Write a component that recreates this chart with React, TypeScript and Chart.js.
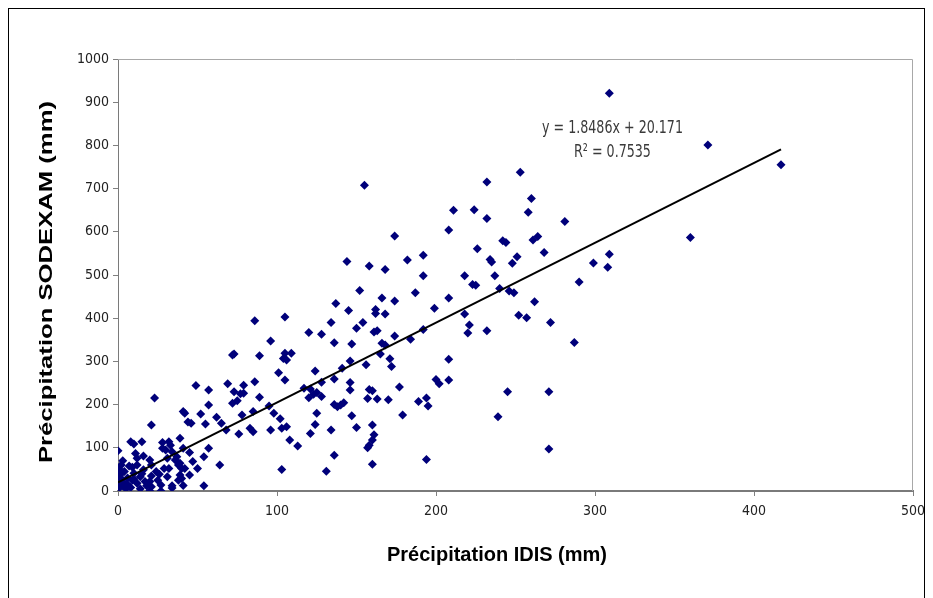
import React, { useEffect, useRef } from "react";
import { Chart, registerables } from "chart.js";

Chart.register(...registerables);

// IDIS precipitation (x, mm)
const idis: number[] = [
  309, 371, 417, 360, 309, 308, 281, 290, 299, 287, 272, 271, 271, 268, 264, 261, 262, 260, 258, 257,
  252, 253, 251, 248, 249, 246, 244, 242, 245, 240, 239, 237, 235, 234, 232, 232, 232, 226, 225, 223,
  224, 221, 220, 218, 218, 211, 208, 208, 208, 208, 202, 200, 199, 195, 194, 194, 192, 192, 192, 189,
  187, 184, 182, 179, 177, 174, 174, 174, 171, 172, 170, 168, 168, 168, 166, 166, 165, 163, 163, 161,
  162, 162, 161, 160, 160, 160, 160, 158, 158, 158, 157, 157, 156, 155, 154, 152, 150, 150, 147, 146,
  146, 146, 147, 145, 144, 142, 141, 140, 138, 137, 136, 136, 136, 136, 134, 134, 131, 128, 128, 128,
  125, 125, 124, 124, 123, 121, 121, 120, 120, 117, 113, 109, 108, 106, 106, 105, 105, 105, 104, 103,
  103, 102, 101, 98, 96, 96, 95, 89, 89, 86, 86, 85, 85, 83, 79, 79, 78, 76, 77, 75,
  73, 73, 72, 72, 69, 68, 65, 62, 57, 57, 57, 55, 54, 54, 52, 49, 50, 47, 46, 45,
  44, 42, 41, 41, 40, 40, 39, 39, 39, 38, 38, 37, 36, 34, 34, 33, 32, 32, 31, 31,
  30, 29, 28, 28, 27, 26, 25, 23, 21, 21, 21, 21, 20, 20, 17, 16, 15, 16, 14, 12,
  12, 12, 11, 10, 10, 9, 9, 8, 7, 4, 4, 3, 2, 2, 1, 0, 0, 0, 0, 5,
  3, 6, 8, 14, 18, 20, 27, 34, 41, 2, 1, 6, 10, 15, 24, 45, 42, 64
];

// SODEXAM precipitation (y, mm)
const sodexam: number[] = [
  921, 801, 755, 587, 548, 518, 624, 484, 528, 344, 390, 230, 97, 552, 589, 581, 438, 677, 645, 401,
  407, 738, 542, 527, 459, 463, 575, 579, 230, 469, 172, 498, 530, 536, 715, 631, 371, 561, 476, 478,
  651, 384, 366, 498, 410, 650, 604, 447, 305, 257, 248, 258, 423, 197, 215, 73, 546, 498, 374, 207,
  459, 351, 535, 176, 241, 590, 440, 359, 306, 288, 211, 513, 410, 338, 447, 342, 317, 213, 371, 368,
  420, 411, 130, 232, 153, 118, 62, 521, 235, 106, 214, 100, 292, 708, 390, 464, 377, 147, 340, 301,
  251, 234, 174, 418, 531, 204, 284, 199, 195, 434, 343, 259, 200, 83, 390, 141, 46, 363, 252, 219,
  228, 180, 278, 154, 224, 236, 133, 367, 216, 238, 104, 319, 118, 149, 303, 403, 319, 257, 307, 145,
  50, 167, 274, 180, 347, 141, 197, 313, 217, 394, 253, 184, 137, 145, 245, 226, 176, 132, 225, 209,
  317, 230, 315, 203, 248, 141, 157, 171, 234, 199, 99, 155, 79, 12, 178, 244, 52, 68, 157, 89,
  160, 180, 184, 99, 52, 29, 122, 64, 37, 60, 25, 79, 72, 91, 12, 106, 114, 52, 76, 33,
  95, 52, 112, 99, 14, 39, 25, 215, 153, 60, 35, 10, 72, 22, 22, 49, 114, 81, 33, 76,
  60, 18, 87, 109, 41, 55, 25, 114, 58, 45, 18, 70, 29, 60, 10, 93, 35, 22, 4, 5,
  12, 30, 8, 5, 12, 0, 0, 7, 13, 40, 50, 15, 28, 40, 45, 37, 52, 60
];

const regressionSlope = 1.8486;
const regressionIntercept = 20.171;
const trendRange: number[] = [0, 417];

const xTickValues: number[] = [0, 100, 200, 300, 400, 500];
const yTickValues: number[] = [0, 100, 200, 300, 400, 500, 600, 700, 800, 900, 1000];

const xTitle = "Précipitation IDIS (mm)";
const yTitle = "Précipitation SODEXAM (mm)";
const equationText = "y = 1.8486x + 20.171";
const r2Text = "R² = 0.7535";

const NARROW = '"Liberation Sans Narrow", "Arial Narrow", "DejaVu Sans Condensed", sans-serif';
const ARIAL = '"Liberation Sans", Arial, sans-serif';

function fitText(ctx: any, text: string, x: number, y: number, targetW: number, font: string, rot: number) {
  ctx.save();
  ctx.translate(x, y);
  if (rot) ctx.rotate(rot);
  ctx.font = font;
  const w = ctx.measureText(text).width;
  ctx.scale(targetW / w, 1);
  ctx.textAlign = "center";
  ctx.textBaseline = "middle";
  ctx.fillText(text, 0, 0);
  ctx.restore();
}

const decorPlugin = {
  id: "decor",
  beforeDatasetsDraw(chart: any) {
    const { ctx, chartArea } = chart;
    const { left, top, right, bottom } = chartArea;
    ctx.save();
    ctx.strokeStyle = "#a8a8a8";
    ctx.lineWidth = 1;
    ctx.beginPath();
    ctx.moveTo(left, top + 0.5);
    ctx.lineTo(right - 0.5, top + 0.5);
    ctx.lineTo(right - 0.5, bottom);
    ctx.stroke();
    ctx.restore();
  },
  afterDraw(chart: any) {
    const { ctx, chartArea } = chart;
    ctx.save();
    ctx.fillStyle = "#000";
    // Y axis title
    fitText(ctx, yTitle, 38, (chartArea.top + chartArea.bottom) / 2 + 7, 362, `bold 18px ${ARIAL}`, -Math.PI / 2);
    // X axis title
    fitText(ctx, xTitle, 488, 546, 220, `bold 20px ${ARIAL}`, 0);
    ctx.restore();

    // Regression equation
    const xs = chart.scales.x;
    const ys = chart.scales.y;
    const cx = xs.getPixelForValue(311);
    ctx.save();
    ctx.font = `18px ${NARROW}`;
    const ew = ctx.measureText(equationText).width;
    const k = 141 / ew;
    ctx.fillStyle = "#3a3a3a";
    ctx.textAlign = "center";
    ctx.textBaseline = "middle";
    ctx.save();
    ctx.translate(cx, ys.getPixelForValue(840));
    ctx.scale(k, 1);
    ctx.fillText(equationText, 0, 0);
    ctx.restore();
    ctx.save();
    ctx.translate(cx, ys.getPixelForValue(785));
    ctx.scale(k, 1);
    ctx.fillText(r2Text, 0, 0);
    ctx.restore();
    ctx.restore();
  },
};

export default function App() {
  const canvasRef = useRef<HTMLCanvasElement | null>(null);

  useEffect(() => {
    if (!canvasRef.current) return;
    const points = idis.map((x, i) => ({ x, y: sodexam[i] }));
    const trend = trendRange.map((x) => ({ x, y: regressionSlope * x + regressionIntercept }));

    const chart = new Chart(canvasRef.current, {
      type: "scatter",
      data: {
        datasets: [
          {
            type: "line",
            label: "Linéaire",
            data: trend,
            borderColor: "#000000",
            borderWidth: 2,
            pointRadius: 0,
            fill: false,
            showLine: true,
          } as any,
          {
            type: "scatter",
            label: "Précipitation",
            data: points,
            pointStyle: "rectRot",
            pointRadius: 4.5,
            pointBackgroundColor: "#00007a",
            pointBorderColor: "#00007a",
            pointBorderWidth: 0,
          } as any,
        ],
      },
      options: {
        responsive: false,
        animation: false,
        devicePixelRatio: 1,
        layout: { padding: { top: 50, right: 11, left: 0, bottom: 0 } },
        plugins: { legend: { display: false }, tooltip: { enabled: false } },
        scales: {
          x: {
            type: "linear",
            min: 0,
            max: 500,
            afterBuildTicks: (s: any) => {
              s.ticks = xTickValues.map((v) => ({ value: v }));
            },
            afterFit: (s: any) => {
              s.height = 107;
              s.paddingLeft = 0;
              s.paddingRight = 0;
            },
            ticks: {
              font: { family: NARROW, size: 14 },
              color: "#222",
              padding: 7,
              maxRotation: 0,
              callback: (v: any) => String(v),
            },
            grid: {
              drawOnChartArea: false,
              drawTicks: true,
              tickLength: 5,
              color: "#808080",
            },
            border: { display: true, color: "#7a7a7a", width: 2 },
            title: { display: false, text: xTitle },
          },
          y: {
            type: "linear",
            min: 0,
            max: 1000,
            afterBuildTicks: (s: any) => {
              s.ticks = yTickValues.map((v) => ({ value: v }));
            },
            afterFit: (s: any) => {
              s.width = 109;
              s.paddingTop = 0;
              s.paddingBottom = 0;
            },
            ticks: {
              font: { family: NARROW, size: 14 },
              color: "#222",
              padding: 4,
              callback: (v: any) => String(v),
            },
            grid: {
              drawOnChartArea: false,
              drawTicks: true,
              tickLength: 5,
              color: "#808080",
            },
            border: { display: true, color: "#7a7a7a", width: 1 },
            title: { display: false, text: yTitle },
          },
        },
      },
      plugins: [decorPlugin],
    } as any);

    return () => chart.destroy();
  }, []);

  return (
    <div
      style={{
        width: 917,
        height: 590,
        boxSizing: "border-box",
        borderLeft: "1px solid #000",
        borderTop: "1px solid #000",
        borderRight: "1px solid #000",
        background: "#fff",
      }}
    >
      <canvas ref={canvasRef} width={915} height={589} style={{ display: "block" }} />
    </div>
  );
}
